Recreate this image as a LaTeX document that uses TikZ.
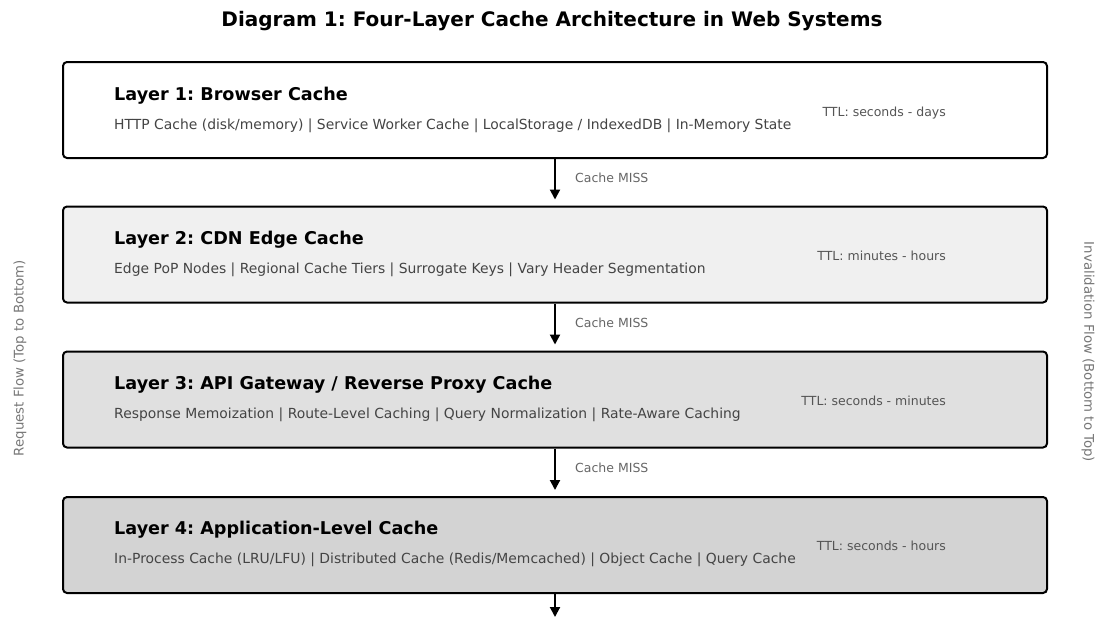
\documentclass[tikz,border=0pt]{standalone}
\usepackage{fontspec}
\setmainfont{DejaVu Sans}
\usetikzlibrary{arrows.meta}
\frenchspacing
\definecolor{fillB}{HTML}{F0F0F0}
\definecolor{fillC}{HTML}{E0E0E0}
\definecolor{fillD}{HTML}{D3D3D3}
\definecolor{desc}{HTML}{444444}
\definecolor{ttl}{HTML}{555555}
\definecolor{miss}{HTML}{666666}
\definecolor{side}{HTML}{777777}
\tikzset{
  layerbox/.style={draw=black, line width=2pt, rounded corners=4pt,
    minimum width=984pt, minimum height=96pt, inner sep=0pt},
  layertitle/.style={anchor=base west, inner sep=0pt, font=\fontsize{17.6}{20}\selectfont\bfseries},
  layerdesc/.style={anchor=base west, inner sep=0pt, text=desc, font=\fontsize{13.9}{16}\selectfont},
  ttltext/.style={anchor=base east, inner sep=0pt, text=ttl, font=\fontsize{12.5}{15}\selectfont},
  misslabel/.style={anchor=west, inner sep=0pt, text=miss, font=\fontsize{12.5}{15}\selectfont},
  flowarrow/.style={line width=2pt, -{Triangle[width=10pt,length=10pt]}, shorten >=6pt},
  sidelabel/.style={inner sep=0pt, text=side, font=\fontsize{13.3}{16}\selectfont},
}
\begin{document}
\begin{tikzpicture}[x=1pt,y=-1pt]
\clip (0,0) rectangle (1102,616);
\fill[white] (0,0) rectangle (1102,616);

% title
\node[anchor=base, inner sep=0pt, font=\fontsize{20}{23}\selectfont\bfseries] (title) at (552,26)
  {Diagram 1: Four-Layer Cache Architecture in Web Systems};

% the four cache layers
\node[layerbox, fill=white] (L1) at (555,110) {};
\node[layerbox, fill=fillB] (L2) at (555,254.5) {};
\node[layerbox, fill=fillC] (L3) at (555,399.5) {};
\node[layerbox, fill=fillD] (L4) at (555,545) {};

\node[layertitle] (t1) at (114,100) {Layer 1: Browser Cache};
\node[layerdesc] (d1) at (114,129) {HTTP Cache (disk/memory) | Service Worker Cache | LocalStorage / IndexedDB | In-Memory State};
\node[ttltext] (ttl1) at (946,116) {TTL: seconds - days};

\node[layertitle] (t2) at (114,244.5) {Layer 2: CDN Edge Cache};
\node[layerdesc] (d2) at (114,273.5) {Edge PoP Nodes | Regional Cache Tiers | Surrogate Keys | Vary Header Segmentation};
\node[ttltext] (ttl2) at (946,260.5) {TTL: minutes - hours};

\node[layertitle] (t3) at (114,389.5) {Layer 3: API Gateway / Reverse Proxy Cache};
\node[layerdesc] (d3) at (114,418.5) {Response Memoization | Route-Level Caching | Query Normalization | Rate-Aware Caching};
\node[ttltext] (ttl3) at (946,405.5) {TTL: seconds - minutes};

\node[layertitle] (t4) at (114,534) {Layer 4: Application-Level Cache};
\node[layerdesc] (d4) at (114,563) {In-Process Cache (LRU/LFU) | Distributed Cache (Redis/Memcached) | Object Cache | Query Cache};
\node[ttltext] (ttl4) at (946,550.5) {TTL: seconds - hours};

% miss arrows between layers
\draw[flowarrow] (L1.south) -- (L2.north);
\draw[flowarrow] (L2.south) -- (L3.north);
\draw[flowarrow] (L3.south) -- (L4.north);
\coordinate (below) at (555,623);
\draw[flowarrow] (L4.south) -- (below);

\node[misslabel] (m1) at (575,178) {Cache MISS};
\node[misslabel] (m2) at (575,323) {Cache MISS};
\node[misslabel] (m3) at (575,468) {Cache MISS};

% flow directions along the sides
\node[sidelabel, rotate=90] (req) at (20,358) {Request Flow (Top to Bottom)};
\node[sidelabel, rotate=-90] (inv) at (1088,352) {Invalidation Flow (Bottom to Top)};
\end{tikzpicture}
\end{document}
